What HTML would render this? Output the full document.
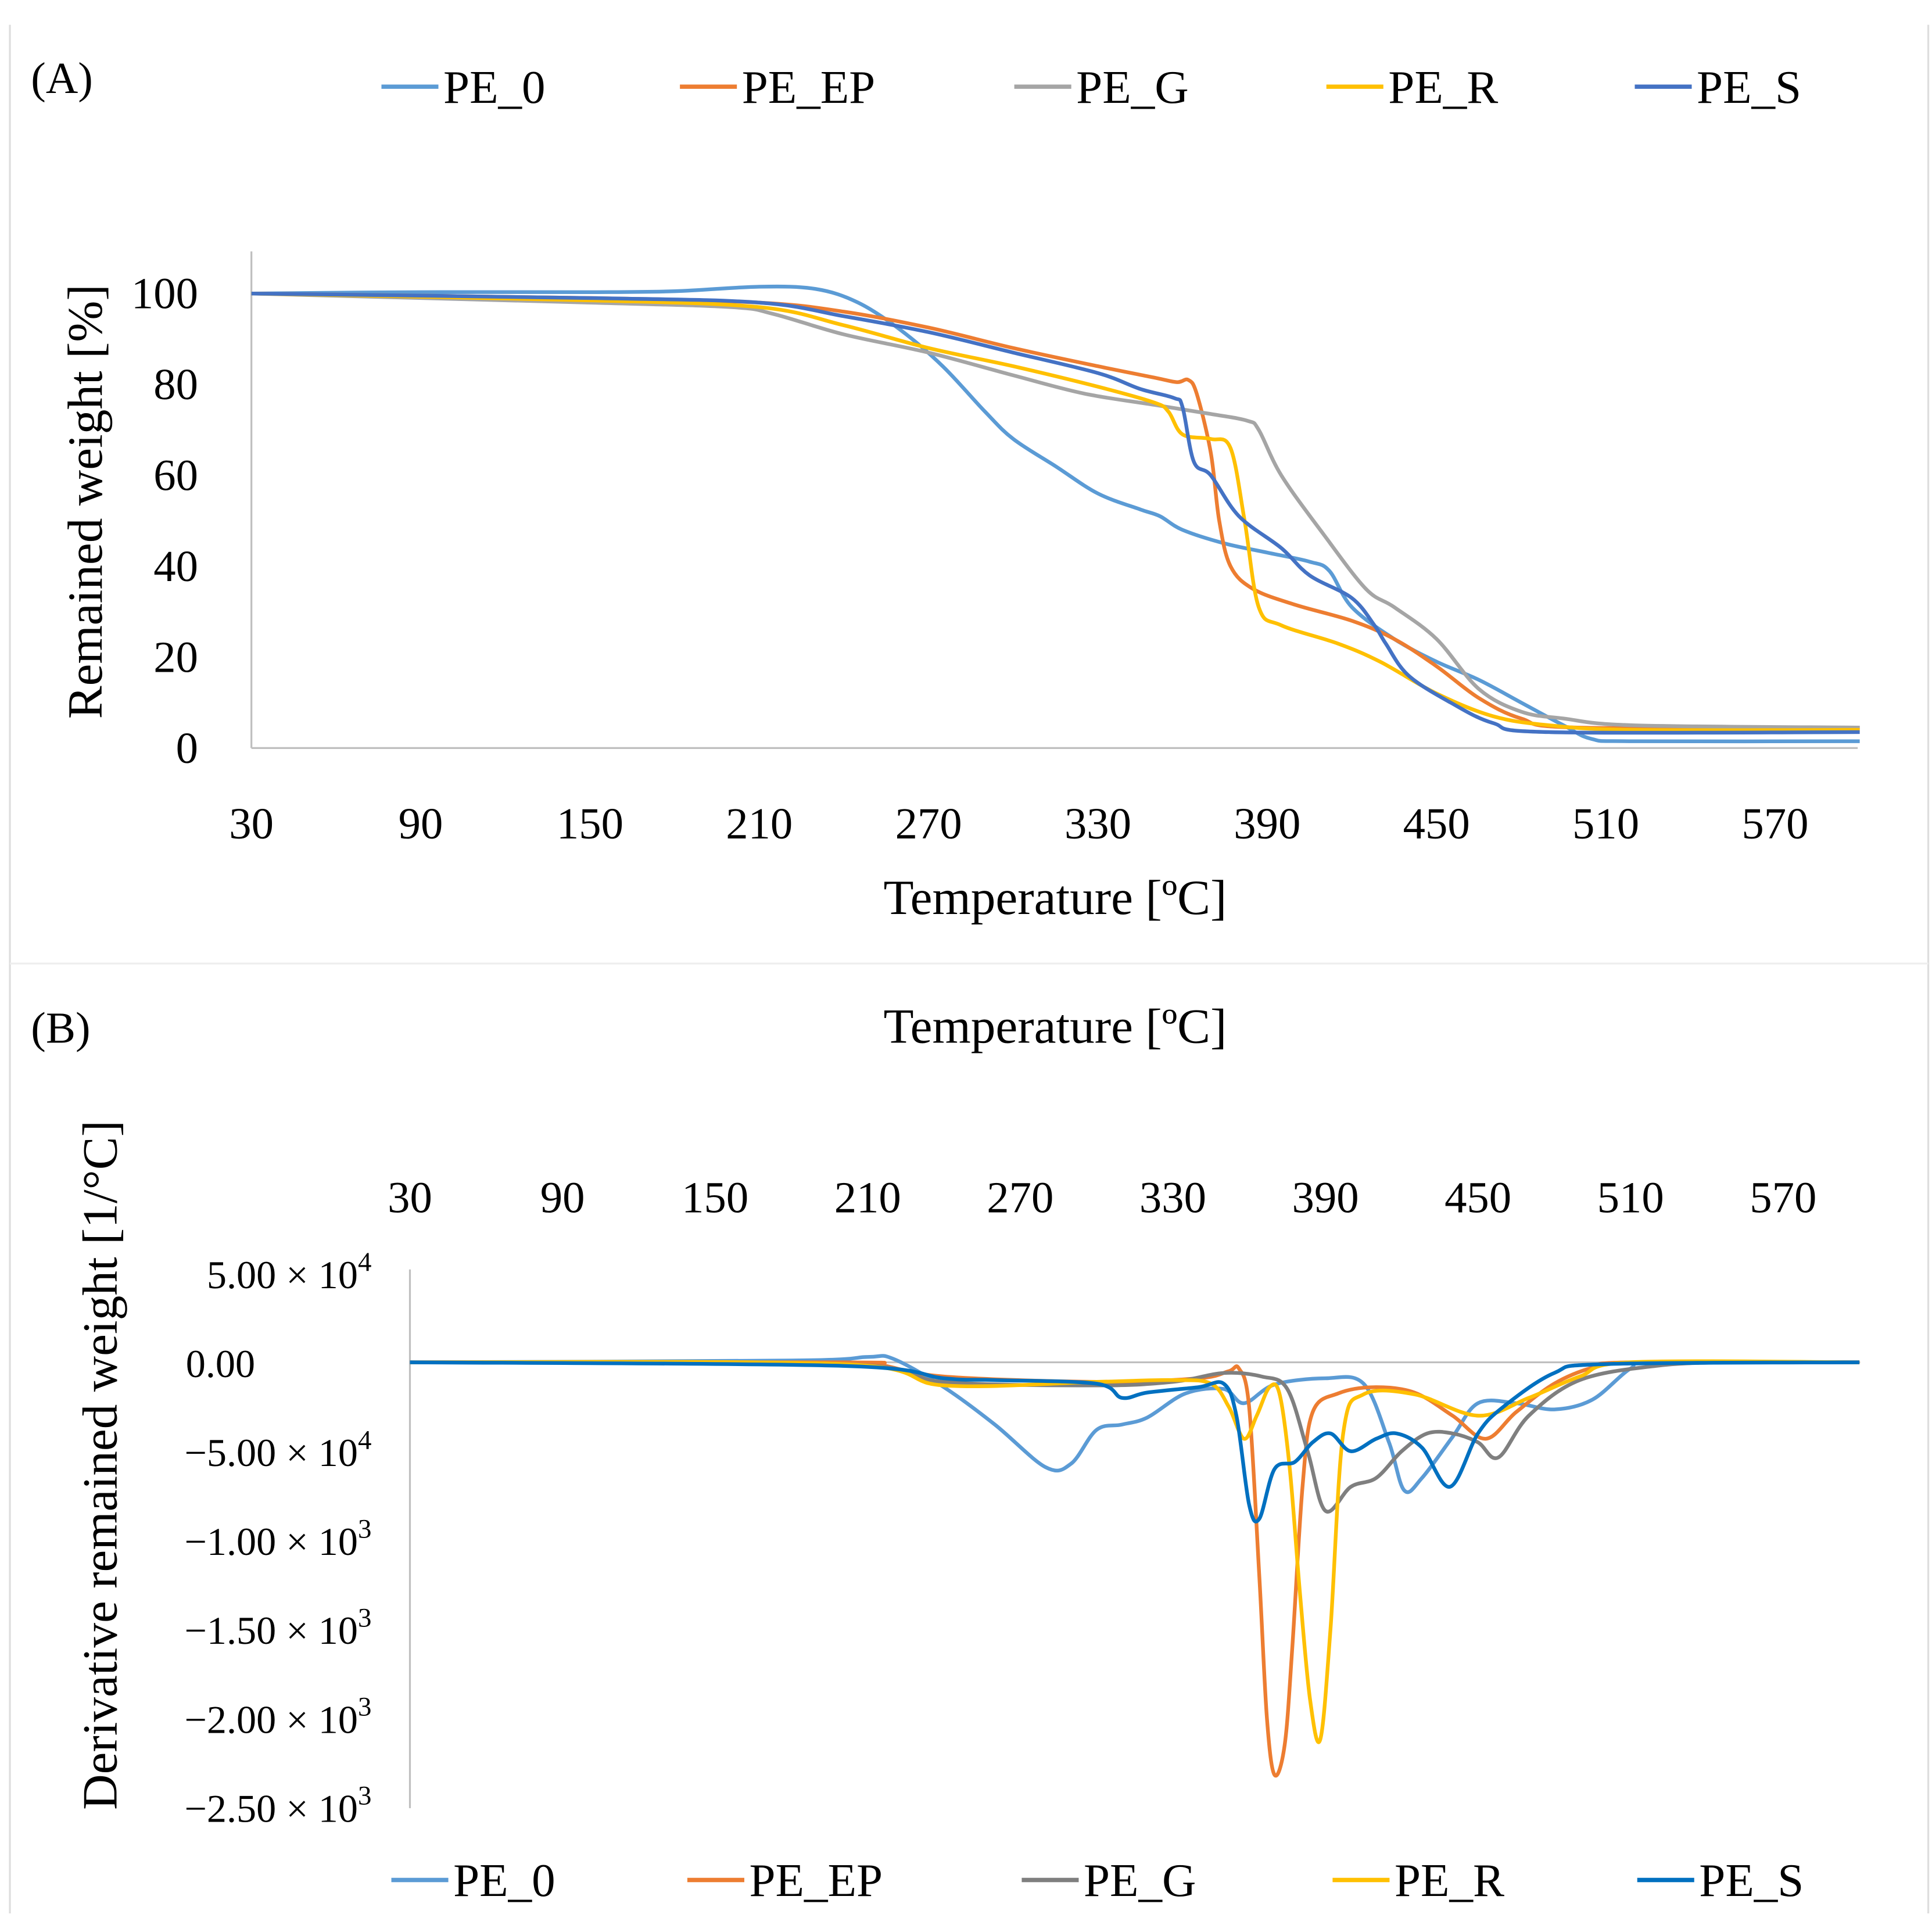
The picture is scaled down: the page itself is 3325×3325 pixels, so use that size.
<!DOCTYPE html>
<html><head><meta charset="utf-8">
<style>
html,body{margin:0;padding:0;background:#fff;}
svg{display:block;}
text{font-family:"Liberation Serif",serif;fill:#000;}
</style></head>
<body>
<svg id="chart" width="3325" height="3325" viewBox="0 0 1560 1560" preserveAspectRatio="none" xmlns="http://www.w3.org/2000/svg">
<line x1="8" y1="20" x2="8" y2="1545" stroke="#ddd" stroke-width="1.5"/>
<line x1="1557" y1="20" x2="1557" y2="1545" stroke="#ddd" stroke-width="1.5"/>
<line x1="8" y1="778" x2="1557" y2="778" stroke="#eee" stroke-width="1.5"/>
<text x="25" y="75" font-size="36">(A)</text>
<text x="25" y="842" font-size="36">(B)</text>
<text x="852" y="738" font-size="40" text-anchor="middle">Temperature [ºC]</text>
<text x="852" y="842" font-size="40" text-anchor="middle">Temperature [ºC]</text>
<text transform="translate(82,405) rotate(-90)" font-size="40" text-anchor="middle">Remained weight [%]</text>
<text transform="translate(94,1183) rotate(-90)" font-size="40" text-anchor="middle">Derivative remained weight [1/°C]</text>
<g id="ga"></g>
<g id="gb"></g>
</svg>
<script>
const colorsA = ["#5B9BD5","#ED7D31","#A5A5A5","#FFC000","#4472C4"];
const colorsB = ["#5B9BD5","#ED7D31","#7F7F7F","#FFC000","#0070C0"];
const seriesNames = ["PE_0","PE_EP","PE_G","PE_R","PE_S"];
const xTicks = [30,90,150,210,270,330,390,450,510,570];
const yTicksA = [0,20,40,60,80,100];
const yTicksB = [500,0,-500,-1000,-1500,-2000,-2500];
const yTickLabelsB = [["5.00 × 10","4"],["0.00",""],["−5.00 × 10","4"],["−1.00 × 10","3"],["−1.50 × 10","3"],["−2.00 × 10","3"],["−2.50 × 10","3"]];

const tA0 = [30,90,150,180,210,230,245,260,275,290,300,315,330,345,352,360,375,390,405,412,420,435,450,465,480,495,505,520,600];
const vA0 = [100,100.3,100.3,100.5,101.5,101,98,92,84,74,68,62,56,52.5,51,48,45,43,41,39,31,24,19,15,10,5,2,1.5,1.5];
const tA1 = [30,150,210,240,270,300,330,350,358,362,365,370,373,377,385,400,420,435,450,465,480,500,600];
const vA1 = [100,99,98,96,92.5,88,84,81.5,80.5,81,78,65,50,40,35,31.5,28,24,18,11,6.5,4.5,4.5];
const tA2 = [30,150,200,215,240,270,300,325,350,370,383,387,395,410,425,435,450,465,480,495,520,600];
const vA2 = [100,98,97,95.5,91,87,82,78,75.5,73.5,72,70,60,47,35,31,24,13,8,6.5,5,4.5];
const tA3 = [30,150,210,240,270,300,330,350,355,360,370,377,382,387,395,415,430,450,470,490,520,600];
const vA3 = [100,98.5,97,93,88,84,79.5,76,74,69,68,66,50,31,27,23,19,12,7,5,4,4];
const tA4 = [30,150,210,240,270,300,330,345,357,360,364,370,380,395,405,420,428,432,440,455,470,490,600];
const vA4 = [100,99,98,95,91.5,87,82.5,79,77,75,63,60,51,44,38,33,27,23,16,10,5.5,3.5,3.5];

const tB0 = [30,180,210,220,240,260,280,290,300,310,320,335,350,358,370,390,405,415,421,428,440,450,465,480,495,510,520,600];
const vB0 = [0,10,30,20,-140,-350,-590,-570,-380,-350,-310,-175,-150,-230,-125,-90,-120,-450,-720,-650,-420,-230,-230,-265,-210,-35,0,0];
const tB1 = [30,200,215,240,300,340,352,356,360,364,367,370,374,377,381,385,395,409,425,440,453,465,480,495,510,600];
const vB1 = [0,0,-15,-80,-110,-90,-50,-35,-250,-1200,-2000,-2320,-2150,-1600,-700,-280,-175,-140,-170,-300,-430,-280,-120,-30,0,0];
const tB2 = [30,200,240,300,330,350,365,375,383,390,400,410,420,430,440,450,458,470,490,520,550,600];
const vB2 = [0,-10,-110,-130,-110,-60,-80,-150,-500,-835,-700,-650,-500,-400,-400,-450,-535,-300,-100,-20,0,0];
const tB3 = [30,200,240,300,330,345,352,358,363,368,372,376,380,384,388,392,397,405,425,450,470,490,510,600];
const vB3 = [0,-10,-130,-110,-100,-120,-250,-430,-300,-140,-180,-600,-1300,-1900,-2120,-1500,-400,-180,-180,-300,-200,-80,0,0];
const tB4 = [30,200,240,260,300,310,320,340,350,355,360,364,370,378,385,392,400,410,418,428,439,450,460,480,500,600];
const vB4 = [0,-20,-90,-100,-120,-200,-170,-140,-120,-300,-800,-880,-600,-560,-450,-400,-500,-430,-400,-480,-700,-400,-250,-60,-10,0];

const seriesA = [[tA0,vA0],[tA1,vA1],[tA2,vA2],[tA3,vA3],[tA4,vA4]];
const seriesB = [[tB0,vB0],[tB1,vB1],[tB2,vB2],[tB3,vB3],[tB4,vB4]];

const NS = "http://www.w3.org/2000/svg";
function mk(tag, attrs, parent){const e=document.createElementNS(NS,tag);for(const k in attrs)e.setAttribute(k,attrs[k]);parent.appendChild(e);return e;}
function smooth(pts){
  let d="M"+pts[0][0].toFixed(2)+","+pts[0][1].toFixed(2);
  for(let i=0;i<pts.length-1;i++){
    const p0=pts[Math.max(0,i-1)],p1=pts[i],p2=pts[i+1],p3=pts[Math.min(pts.length-1,i+2)];
    const c1x=p1[0]+(p2[0]-p0[0])/6,c1y=p1[1]+(p2[1]-p0[1])/6;
    const c2x=p2[0]-(p3[0]-p1[0])/6,c2y=p2[1]-(p3[1]-p1[1])/6;
    d+=" C"+c1x.toFixed(2)+","+c1y.toFixed(2)+" "+c2x.toFixed(2)+","+c2y.toFixed(2)+" "+p2[0].toFixed(2)+","+p2[1].toFixed(2);
  }
  return d;
}

// Panel A
const xA = t => 203 + (t-30)/60*136.7;
const yA = v => 604 - v/20*73.4;
const ga = document.getElementById("ga");
const axA = mk("line",{x1:203,y1:203,x2:203,y2:604,stroke:"#bfbfbf","stroke-width":1.5},ga);


const axA2 = mk("line",{x1:203,y1:604,x2:1500,y2:604,stroke:"#bfbfbf","stroke-width":1.5},ga);


yTicksA.forEach(v=>{
  const t=mk("text",{x:160,y:yA(v)+12,"font-size":36,"text-anchor":"end"},ga);t.textContent=v;
  
  
});
xTicks.forEach(v=>{
  const t=mk("text",{x:xA(v),y:677,"font-size":36,"text-anchor":"middle"},ga);t.textContent=v;
  
  
});
seriesA.forEach((s,i)=>{
  const pts=s[0].map((t,j)=>[xA(t),yA(s[1][j])]);
  const p=mk("path",{d:smooth(pts),fill:"none",stroke:colorsA[i],"stroke-width":3,"stroke-linejoin":"round"},ga);
  
  
});
const legAx=[308,549,819,1071,1320];
legAx.forEach((x,i)=>{
  const l=mk("line",{x1:x,y1:70,x2:x+46,y2:70,stroke:colorsA[i],"stroke-width":3.5},ga);
  
  
  const t=mk("text",{x:x+50,y:83,"font-size":38},ga);t.textContent=seriesNames[i];
  
  
});

// Panel B
const xB = t => 331 + (t-30)/60*123.2;
const yB = v => 1100 - v/500*71.8;
const gb = document.getElementById("gb");
const axB = mk("line",{x1:331,y1:1025,x2:331,y2:1460,stroke:"#bfbfbf","stroke-width":1.5},gb);


const axB2 = mk("line",{x1:331,y1:1100,x2:1502,y2:1100,stroke:"#bfbfbf","stroke-width":1.5},gb);


yTicksB.forEach((v,i)=>{
  const lab=yTickLabelsB[i];
  const t=mk("text",{x:lab[1]?300:206,y:yB(v)+12,"font-size":32,"text-anchor":"end"},gb);
  t.textContent=lab[0];
  
  
  if(lab[1]){
    const s=mk("tspan",{dy:-14,"font-size":22},t);s.textContent=lab[1];
  }
});
xTicks.forEach(v=>{
  const t=mk("text",{x:xB(v),y:979,"font-size":36,"text-anchor":"middle"},gb);t.textContent=v;
  
  
});
seriesB.forEach((s,i)=>{
  const pts=s[0].map((t,j)=>[xB(t),yB(s[1][j])]);
  const p=mk("path",{d:smooth(pts),fill:"none",stroke:colorsB[i],"stroke-width":3,"stroke-linejoin":"round"},gb);
  
  
});
const legBx=[316,555,825,1076,1322];
legBx.forEach((x,i)=>{
  const l=mk("line",{x1:x,y1:1518,x2:x+46,y2:1518,stroke:colorsB[i],"stroke-width":3.5},gb);
  
  
  const t=mk("text",{x:x+50,y:1531,"font-size":38},gb);t.textContent=seriesNames[i];
  
  
});
</script>
</body></html>
